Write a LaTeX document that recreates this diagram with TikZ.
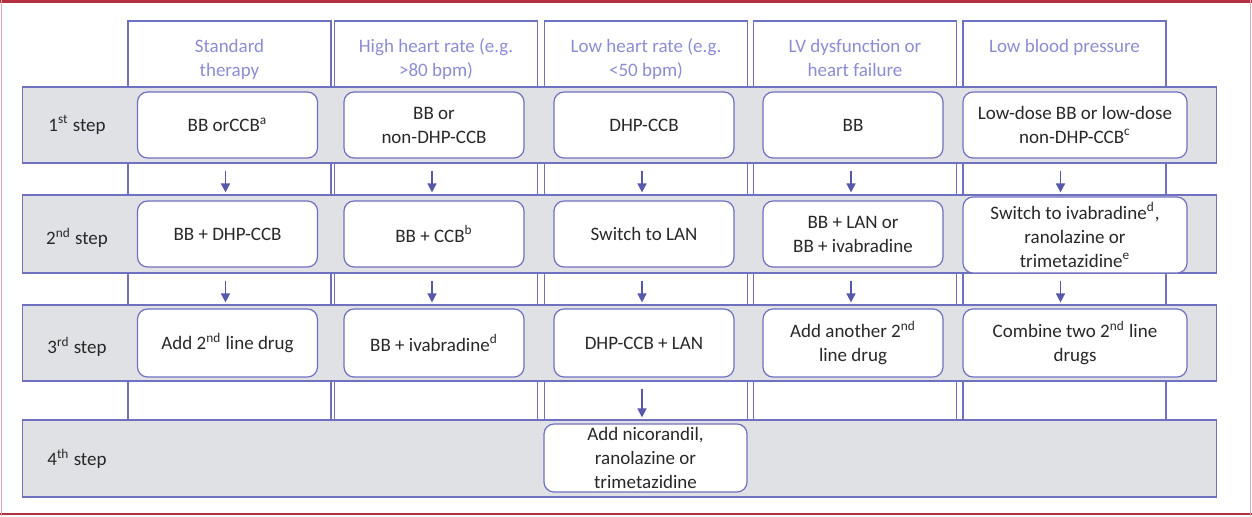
\documentclass[tikz,border=0pt]{standalone}
\usepackage{fontspec}
\setmainfont{Carlito}
\usepackage{tikz}
\usetikzlibrary{calc,positioning,arrows.meta}
\definecolor{lineblue}{RGB}{112,112,192}
\definecolor{arrblue}{RGB}{88,88,168}
\definecolor{headblue}{RGB}{140,140,210}
\definecolor{bandgray}{RGB}{223,225,229}
\definecolor{framered}{RGB}{178,48,64}
\definecolor{framepink}{RGB}{222,168,180}
\definecolor{txt}{RGB}{40,40,40}

\begin{document}
\begin{tikzpicture}[x=0.5pt,y=-0.5pt,
  every node/.style={font=\fontsize{9.5}{12}\selectfont,align=center,inner sep=0pt},
  colbox/.style={draw=lineblue,line width=0.6pt,minimum width=101.5pt,minimum height=199.5pt},
  rowband/.style={draw=lineblue,line width=0.6pt,fill=bandgray,minimum width=597pt},
  drug/.style={draw=lineblue,line width=0.6pt,fill=white,rounded corners=5pt,minimum width=90pt,minimum height=33pt,text=txt},
  headtxt/.style={text=headblue},
  steplab/.style={text=txt},
  arr/.style={draw=arrblue,line width=0.8pt,-{Triangle[width=4.5pt,length=4.5pt]}}]
  \useasboundingbox (0,0) rectangle (1252,516);
  % one column per patient group
  \foreach \i/\x in {1/229.5,2/436,3/646,4/855,5/1064.5}
    \node[colbox] (c\i) at (\x,220.5) {};
  \node[headtxt,below=9pt of c1.north] (h1) {Standard\\therapy};
  \node[headtxt,below=9pt of c2.north] (h2) {High heart rate (e.g.\\>80 bpm)};
  \node[headtxt,below=9pt of c3.north] (h3) {Low heart rate (e.g.\\<50 bpm)};
  \node[headtxt,below=9pt of c4.north] (h4) {LV dysfunction or\\heart failure};
  \node[headtxt,below=9pt of c5.north] (h5) {Low blood pressure};
  % grey bands, one per step
  \node[rowband,minimum height=38pt] (r1) at (619.75,125) {};
  \node[rowband,minimum height=39pt] (r2) at (619.75,234) {};
  \node[rowband,minimum height=38pt] (r3) at (619.75,343) {};
  \node[rowband,minimum height=38.5pt] (r4) at (619.75,458.5) {};
  \node[steplab] (s1) at (77,125) {1\textsuperscript{st} step};
  \node[steplab] (s2) at (77,238) {2\textsuperscript{nd} step};
  \node[steplab] (s3) at (77,347) {3\textsuperscript{rd} step};
  \node[steplab] (s4) at (77,459) {4\textsuperscript{th} step};
  % 1st step
  \node[drug] (b11) at ($(c1 |- r1)+(-2,0)$) {BB orCCB\textsuperscript{a}};
  \node[drug] (b12) at ($(c2 |- r1)+(-2,0)$) {BB or\\non-DHP-CCB};
  \node[drug] (b13) at ($(c3 |- r1)+(-2,0)$) {DHP-CCB};
  \node[drug] (b14) at ($(c4 |- r1)+(-2,0)$) {BB};
  \node[drug,minimum width=112pt] (b15) at (1075,125) {Low-dose BB or low-dose\\non-DHP-CCB\textsuperscript{c}};
  % 2nd step
  \node[drug] (b21) at ($(c1 |- r2)+(-2,0)$) {BB + DHP-CCB};
  \node[drug] (b22) at ($(c2 |- r2)+(-2,0)$) {BB + CCB\textsuperscript{b}};
  \node[drug] (b23) at ($(c3 |- r2)+(-2,0)$) {Switch to LAN};
  \node[drug] (b24) at ($(c4 |- r2)+(-2,0)$) {BB + LAN or\\BB + ivabradine};
  \node[drug,minimum width=112pt,minimum height=38pt] (b25) at (1075,235) {Switch to ivabradine\textsuperscript{d},\\ranolazine or\\trimetazidine\textsuperscript{e}};
  % 3rd step
  \node[drug,minimum height=34pt] (b31) at ($(c1 |- r3)+(-2,0)$) {Add 2\textsuperscript{nd} line drug};
  \node[drug,minimum height=34pt] (b32) at ($(c2 |- r3)+(-2,0)$) {BB + ivabradine\textsuperscript{d}};
  \node[drug,minimum height=34pt] (b33) at ($(c3 |- r3)+(-2,0)$) {DHP-CCB + LAN};
  \node[drug,minimum height=34pt] (b34) at ($(c4 |- r3)+(-2,0)$) {Add another 2\textsuperscript{nd}\\line drug};
  \node[drug,minimum width=112pt,minimum height=34pt] (b35) at (1075,343) {Combine two 2\textsuperscript{nd} line\\drugs};
  % 4th step
  \node[drug,minimum width=101.5pt,minimum height=34pt] (b43) at (645.5,458) {Add nicorandil,\\ranolazine or\\trimetazidine};
  \foreach \i in {1,...,5} {
    \draw[arr] ($(r1.south -| c\i)+(-4,7)$) -- ($(r2.north -| c\i)+(-4,-2)$);
    \draw[arr] ($(r2.south -| c\i)+(-4,7)$) -- ($(r3.north -| c\i)+(-4,-2)$);
  }
  \draw[arr] ($(r3.south -| c3)+(-4,7)$) -- ($(r4.north -| c3)+(-4,-2)$);
  % frame
  \draw[framered,line width=1.5pt] (0,1.5) -- (1252,1.5);
  \draw[framered,line width=1pt] (0,514) -- (1252,514);
  \draw[framepink,line width=0.5pt] (1.5,0) -- (1.5,516);
  \draw[framepink,line width=0.5pt] (1250.5,0) -- (1250.5,516);
\end{tikzpicture}
\end{document}
